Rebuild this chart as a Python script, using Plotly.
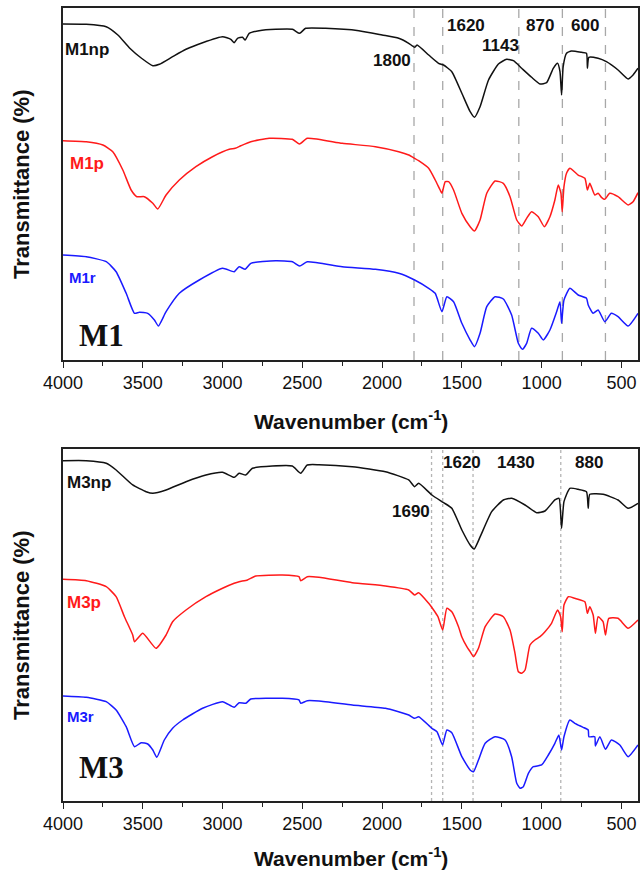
import plotly.graph_objects as go

# ---------------- FTIR spectra (offset transmittance, arbitrary units) ----------------
# Panel M1
m1np_wn = [4000, 3854, 3729, 3656, 3583, 3510, 3437, 3396, 3313, 3229, 3125, 3000, 2948, 2927, 2906,
           2875, 2858, 2833, 2771, 2667, 2562, 2517, 2479, 2354, 2146, 2000, 1896, 1833, 1796, 1781,
           1708, 1646, 1615, 1563, 1500, 1448, 1421, 1386, 1333, 1271, 1219, 1177, 1125, 1063, 1010,
           969, 927, 900, 885, 875, 865, 844, 813, 750, 719, 713, 704, 646, 594, 521, 458, 427, 396]
m1np_t = [336, 335.7, 333.3, 325, 312, 302, 294.3, 295.7, 303.3, 310.7, 317.3, 323.3, 320.7, 317.3, 321.7,
          322.7, 320, 326.7, 329.3, 330.7, 330.7, 326.7, 331.7, 331.7, 329.3, 325, 321.7, 316.7, 312.7, 315,
          305, 296.7, 295, 288.3, 266.7, 248.3, 242.7, 253.3, 280, 296, 300.7, 299.3, 291.7, 282.7, 276,
          277.3, 291.7, 296.7, 288.3, 265, 293.3, 306.7, 309, 307.7, 306.7, 291.7, 302.7, 301.7, 298.3, 290,
          281, 285, 291.7]

m1p_wn = [4000, 3854, 3750, 3688, 3625, 3573, 3537, 3490, 3437, 3406, 3354, 3271, 3167, 3063, 2958,
          2921, 2885, 2823, 2708, 2563, 2517, 2469, 2250, 2042, 1896, 1833, 1796, 1771, 1708, 1667,
          1636, 1625, 1604, 1583, 1552, 1500, 1448, 1421, 1386, 1344, 1292, 1240, 1198, 1156, 1125,
          1094, 1063, 1021, 983, 948, 917, 896, 879, 871, 860, 844, 823, 771, 729, 713,
          698, 667, 646, 625, 604, 573, 521, 458, 427, 396]
m1p_t = [219.3, 218.3, 215, 208.3, 190, 170, 163.3, 163.3, 156.7, 151, 165, 180, 193.3, 203.3, 210.7,
         211.7, 214.3, 218.3, 221.7, 220.7, 216, 221.7, 216.7, 213.3, 208.3, 205, 201.7, 199.3, 191.7, 180,
         170, 166.7, 178.3, 178.3, 170, 146.7, 133.3, 129, 140, 166.7, 179, 176.7, 163.3, 140, 134,
         141.7, 148.3, 143.3, 133.3, 143.3, 160, 175, 166.7, 148.3, 173.3, 186.7, 191.7, 185, 181.7, 170,
         176.7, 165, 166.7, 162.7, 160.7, 166.7, 163.3, 155, 158.3, 167.3]

m1r_wn = [4000, 3854, 3729, 3667, 3604, 3552, 3521, 3469, 3427, 3402, 3354, 3271, 3146, 3000, 2927,
          2896, 2858, 2823, 2667, 2562, 2517, 2469, 2250, 2042, 1896, 1796, 1708, 1667, 1625, 1594,
          1552, 1500, 1448, 1421, 1386, 1344, 1292, 1240, 1188, 1146, 1121, 1094, 1063, 1021, 990,
          948, 906, 885, 875, 860, 823, 771, 719, 708, 677, 646, 604, 563, 521, 458, 396]
m1r_t = [105, 103.3, 98.3, 88.3, 66.7, 46.7, 47.7, 46.7, 40, 34, 48.3, 66.7, 80, 91.7, 88.3,
         93.3, 90.7, 96.7, 99.3, 98.3, 94, 98.3, 93.3, 90.7, 86.7, 80, 71.7, 66.7, 48.3, 63.3,
         58.3, 36.7, 20, 13.3, 26.7, 53.3, 63.3, 61, 45, 16.7, 10.7, 16.7, 31.7, 26.7, 20,
         30, 48.3, 58.3, 36.7, 60, 71.7, 65, 61.7, 55, 46.7, 50, 38.3, 46.7, 43.3, 34, 46.7]

# Panel M3
m3np_wn = [4000, 3854, 3729, 3667, 3563, 3479, 3437, 3354, 3229, 3104, 3000, 2927, 2896, 2854, 2813,
           2688, 2563, 2510, 2469, 2396, 2187, 1979, 1833, 1796, 1771, 1688, 1614, 1563, 1500, 1448,
           1423, 1385, 1313, 1240, 1188, 1104, 1031, 979, 917, 891, 875, 860, 823, 771, 719,
           708, 698, 615, 521, 458, 396]
m3np_t = [340.3, 340.3, 337.7, 331, 316, 309.3, 307.7, 311, 319.3, 326, 328.7, 323.7, 327.7, 326, 332.7,
          335, 335, 327.7, 336, 336.3, 334.3, 329.3, 321, 314.3, 317.7, 306, 298.3, 292.7, 271, 256,
          252, 264.3, 289.3, 301, 302.7, 296, 288.3, 290, 301, 302.7, 272.7, 299.3, 312.7, 311.7, 309.3,
          292.7, 306.7, 306.7, 301, 292.7, 297.7]

m3p_wn = [4000, 3854, 3729, 3667, 3615, 3563, 3552, 3500, 3417, 3354, 3313, 3229, 3104, 3000, 2927,
          2896, 2844, 2792, 2625, 2521, 2510, 2469, 2396, 2187, 1979, 1833, 1796, 1771, 1708, 1677,
          1650, 1620, 1594, 1563, 1521, 1500, 1469, 1448, 1427, 1396, 1354, 1292, 1240, 1198, 1167,
          1146, 1125, 1104, 1073, 1042, 1010, 979, 938, 900, 881, 871, 860, 833, 792, 729,
          713, 698, 677, 663, 646, 615, 600, 579, 521, 458, 396]
m3p_t = [221.7, 220.3, 214.3, 204.3, 184.3, 166, 159.3, 167.7, 152.7, 166, 179.3, 191, 204.3, 212.7, 217.7,
         219.3, 221, 225, 226, 224.3, 220.3, 224.3, 223.7, 218.3, 215, 211, 206, 208.3, 197.7, 191,
         184.3, 171, 192.7, 189.3, 174.3, 164, 154.3, 149.3, 144.3, 152.7, 174.3, 187, 184.3, 171, 147.7,
         129.3, 127.7, 131, 156, 161, 164.3, 169.3, 177.7, 191, 184.3, 169.3, 196, 204.3, 202.7, 199.3,
         187.7, 194.3, 186, 167.7, 184.3, 179.3, 166, 182.7, 182.7, 172.7, 181]

m3r_wn = [4000, 3854, 3729, 3667, 3604, 3552, 3510, 3469, 3437, 3412, 3365, 3313, 3250, 3125, 3000,
          2927, 2896, 2854, 2823, 2625, 2521, 2510, 2469, 2396, 2187, 1979, 1833, 1796, 1771, 1688,
          1656, 1621, 1594, 1563, 1500, 1448, 1427, 1396, 1354, 1292, 1229, 1188, 1156, 1135, 1115,
          1083, 1052, 1000, 958, 917, 892, 875, 860, 823, 792, 740, 708, 704, 667, 663,
          635, 600, 563, 510, 458, 396]
m3r_t = [105, 103.7, 99.3, 91, 74.3, 54.3, 58.3, 57, 51, 43.7, 61, 72.7, 81, 92.7, 99.3,
         93.7, 98.3, 97.7, 102, 102.7, 101, 97.7, 100.3, 100, 96, 92.7, 86, 82.7, 84.3, 72.7,
         69.3, 56, 71, 68.3, 44.3, 31, 29.3, 41, 57.7, 64.3, 61, 44.3, 17.7, 12.7, 14.3,
         27.7, 34.3, 36, 46, 57.7, 66, 51, 64.3, 81, 77.7, 73.7, 71, 64.3, 64.3, 55,
         64.3, 51.7, 61, 56, 44.3, 56]

# Marked band positions
m1_bands = [1800, 1620, 1143, 870, 600]
m3_bands = [1690, 1620, 1430, 880]

# Band label placement (x in cm-1, y in plot units)
m1_band_labels = [("1800", 1939, 300), ("1620", 1477, 335), ("1143", 1258, 315),
                  ("870", 1008, 335), ("600", 727, 335)]
m3_band_labels = [("1690", 1821, 289), ("1620", 1502, 338), ("1430", 1161, 338),
                  ("880", 702, 338)]

SANS = "Liberation Sans, Arial, sans-serif"
SERIF = "Liberation Serif, Times New Roman, serif"
BLACK, RED, BLUE = "#111111", "#ff1a1a", "#1a1aff"

fig = go.Figure()

panels = [
    ("x", "y", [(m1np_wn, m1np_t, BLACK), (m1p_wn, m1p_t, RED), (m1r_wn, m1r_t, BLUE)]),
    ("x2", "y2", [(m3np_wn, m3np_t, BLACK), (m3p_wn, m3p_t, RED), (m3r_wn, m3r_t, BLUE)]),
]
for xa, ya, series in panels:
    for wn, t, col in series:
        fig.add_trace(go.Scatter(x=wn, y=t, mode="lines", xaxis=xa, yaxis=ya,
                                 line=dict(color=col, width=1.5, shape="spline", smoothing=0.5),
                                 showlegend=False, hoverinfo="skip"))

shapes = []
for b in m1_bands:
    shapes.append(dict(type="line", xref="x", yref="y domain", x0=b, x1=b, y0=0, y1=1,
                       line=dict(color="#a8a8a8", width=1.3, dash="dash"), layer="below"))
for b in m3_bands:
    shapes.append(dict(type="line", xref="x2", yref="y2 domain", x0=b, x1=b, y0=0, y1=1,
                       line=dict(color="#b4b4b4", width=1.3, dash="dot"), layer="below"))

annotations = []
for txt, x, y in m1_band_labels:
    annotations.append(dict(text=txt, x=x, y=y, xref="x", yref="y", showarrow=False,
                            font=dict(family=SANS, size=17, color=BLACK, weight="bold")))
for txt, x, y in m3_band_labels:
    annotations.append(dict(text=txt, x=x, y=y, xref="x2", yref="y2", showarrow=False,
                            font=dict(family=SANS, size=17, color=BLACK, weight="bold")))

# Sample names
sample_labels = [
    ("x", "y", "M1np", 311, BLACK, 17, 0),
    ("x", "y", "M1p", 197, RED, 17, 5),
    ("x", "y", "M1r", 83, BLUE, 15, 4),
    ("x2", "y2", "M3np", 318, BLACK, 17, 2),
    ("x2", "y2", "M3p", 198, RED, 17, 2),
    ("x2", "y2", "M3r", 84, BLUE, 15, 2),
]
for xr, yr, txt, y, col, sz, dx in sample_labels:
    annotations.append(dict(text=txt, x=4000, y=y, xref=xr, yref=yr, xanchor="left",
                            xshift=dx, showarrow=False,
                            font=dict(family=SANS, size=sz, color=col, weight="bold")))

# Panel tags
for xr, yr, txt, y in [("x", "y", "M1", 25), ("x2", "y2", "M3", 33)]:
    annotations.append(dict(text=txt, x=4000, y=y, xref=xr, yref=yr, xanchor="left",
                            xshift=14, showarrow=False,
                            font=dict(family=SERIF, size=31, color=BLACK, weight="bold")))

# Axis titles
for ypos in [(360 + 8) / 2, (801 + 449) / 2]:
    annotations.append(dict(text="Transmittance (%)", xref="paper", yref="paper",
                            x=0, y=(801 - ypos) / 793, xshift=-42, textangle=-90,
                            xanchor="center", yanchor="middle", showarrow=False,
                            font=dict(family=SANS, size=22, color=BLACK, weight="bold")))
for ypos in [420, 857]:
    annotations.append(dict(text="Wavenumber (cm<sup>-1</sup>)", xref="paper", yref="paper",
                            x=0.5, y=(801 - ypos) / 793, xanchor="center", yanchor="middle",
                            showarrow=False,
                            font=dict(family=SANS, size=21, color=BLACK, weight="bold")))

xaxis_style = dict(range=[4000, 396], tick0=0, dtick=500, ticks="outside", ticklen=6,
                   tickwidth=1.3, tickcolor="#222", showline=True, linecolor="#222",
                   linewidth=1.5, mirror=True, showgrid=False, zeroline=False,
                   tickfont=dict(family=SANS, size=18, color=BLACK),
                   minor=dict(dtick=250, tick0=0, ticks="outside", ticklen=4,
                              tickwidth=1.2, tickcolor="#222"))
yaxis_style = dict(range=[0, 352], showticklabels=False, ticks="", showline=True,
                   linecolor="#222", linewidth=1.5, mirror=True, showgrid=False,
                   zeroline=False)

fig.update_layout(
    width=641, height=872,
    margin=dict(l=63, r=1, t=8, b=71),
    paper_bgcolor="white", plot_bgcolor="white",
    xaxis=dict(anchor="y", domain=[0, 1], **xaxis_style),
    xaxis2=dict(anchor="y2", domain=[0, 1], **xaxis_style),
    yaxis=dict(anchor="x", domain=[0.5561, 1], **yaxis_style),
    yaxis2=dict(anchor="x2", domain=[0, 0.4439], **yaxis_style),
    shapes=shapes,
    annotations=annotations,
)

fig.write_html("out.html")
